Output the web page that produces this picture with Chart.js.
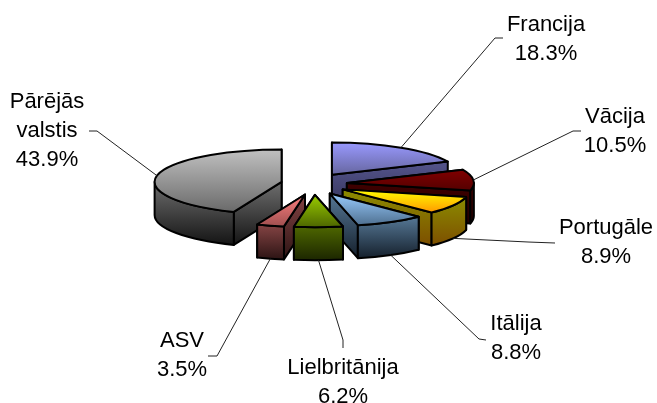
<!DOCTYPE html>
<html>
<head>
<meta charset="utf-8">
<title>Pie</title>
<script src="https://cdn.jsdelivr.net/npm/chart.js@4"></script>
<style>
	html, body { margin: 0; padding: 0; background: #fff; }
	#wrap { width: 657px; height: 403px; }
</style>
</head>
<body>
<div id="wrap"><canvas id="chart"></canvas></div>
<script>
const categories = ['Francija', 'Vācija', 'Portugāle', 'Itālija', 'Lielbritānija', 'ASV', 'Pārējās valstis'];
const shares = [18.3, 10.5, 8.9, 8.8, 6.2, 3.5, 43.9];

// colours of each slice: top face (light, dark) and side faces (light, dark)
const topLight = ['#9999ff', '#800000', '#ffff00', '#99ccff', '#99cc00', '#ff8080', '#c0c0c0'];
const topDark = ['#66669f', '#550000', '#ff9900', '#4f7090', '#4d6600', '#a05050', '#6a6a6a'];
const sideLight = ['#55558c', '#400000', '#8c8c00', '#567896', '#4d6600', '#854444', '#6e6e6e'];
const sideDark = ['#33335a', '#200000', '#7d4f00', '#15202c', '#1c2600', '#2c1414', '#141414'];

// label placement: centre x, first baseline, and where the leader line leaves the label
const labelX = [546, 615, 606, 516, 343, 182, 47];
const labelY = [31, 123, 234, 330, 374, 347, 108];
const leaderEnds = [
	[[503, 38], [495, 38]],
	[[581, 131], [573, 131]],
	[[555, 243], [528, 242]],
	[[486, 340], [479, 339]],
	[[343, 348], [343, 340]],
	[[208, 356], [217, 356]],
	[[89, 131], [97, 131]]
];

const SQUASH = 0.255;
const DEPTH = 33;
const EXPLODE = 33;
const EXPLODE_SQUASH = 0.33;
const LINE_HEIGHT = 29;

function vGradient(ctx, y0, y1, from, to) {
	const g = ctx.createLinearGradient(0, y0, 0, y1);
	g.addColorStop(0, from);
	g.addColorStop(1, to);
	return g;
}

// screen geometry of one exploded slice, worked out from the library's arc element
function sliceGeometry(el) {
	const { x, y, startAngle, endAngle, outerRadius } = el.getProps(['x', 'y', 'startAngle', 'endAngle', 'outerRadius']);
	const mid = (startAngle + endAngle) / 2;
	return {
		cx: x,
		cy: y,
		r: outerRadius,
		ry: outerRadius * SQUASH,
		start: startAngle,
		end: endAngle,
		mid: mid,
		ax: x + Math.cos(mid) * EXPLODE,
		ay: y + Math.sin(mid) * EXPLODE * EXPLODE_SQUASH
	};
}

function rimPoint(s, a) {
	return [s.ax + Math.cos(a) * s.r, s.ay + Math.sin(a) * s.ry];
}

function drawRadialFace(ctx, s, a, from, to) {
	const p = rimPoint(s, a);
	ctx.beginPath();
	ctx.moveTo(s.ax, s.ay);
	ctx.lineTo(p[0], p[1]);
	ctx.lineTo(p[0], p[1] + DEPTH);
	ctx.lineTo(s.ax, s.ay + DEPTH);
	ctx.closePath();
	ctx.fillStyle = vGradient(ctx, Math.min(s.ay, p[1]), Math.max(s.ay, p[1]) + DEPTH, from, to);
	ctx.fill();
	ctx.stroke();
}

function drawWall(ctx, s, from, to) {
	const lo = Math.max(s.start, 0);
	const hi = Math.min(s.end, Math.PI);
	if (hi <= lo) return;
	const ys = [rimPoint(s, lo)[1], rimPoint(s, hi)[1]];
	if (lo < Math.PI / 2 && hi > Math.PI / 2) ys.push(s.ay + s.ry);
	ctx.beginPath();
	ctx.ellipse(s.ax, s.ay, s.r, s.ry, 0, lo, hi);
	ctx.ellipse(s.ax, s.ay + DEPTH, s.r, s.ry, 0, hi, lo, true);
	ctx.closePath();
	ctx.fillStyle = vGradient(ctx, Math.min(...ys), Math.max(...ys) + DEPTH, from, to);
	ctx.fill();
	ctx.stroke();
}

function drawTop(ctx, el, s, i) {
	const pts = [rimPoint(s, s.start), rimPoint(s, s.end)];
	let yMin = Math.min(s.ay, pts[0][1], pts[1][1]);
	let yMax = Math.max(s.ay, pts[0][1], pts[1][1]);
	if (s.start < -Math.PI / 2 + 1e-6 || s.end > 3 * Math.PI / 2 - 1e-6) yMin = s.ay - s.ry;
	if (s.start < Math.PI / 2 && s.end > Math.PI / 2) yMax = s.ay + s.ry;

	// gradient is given in the round space the arc is drawn in, before it is squashed and moved out
	const toArc = y => s.cy + (y - s.ay) / SQUASH;
	el.options = Object.assign({}, el.options, {
		backgroundColor: vGradient(ctx, toArc(yMin), toArc(yMax), topLight[i], topDark[i]),
		borderWidth: 0
	});
	ctx.save();
	ctx.translate(s.ax, s.ay);
	ctx.scale(1, SQUASH);
	ctx.translate(-s.cx, -s.cy);
	el.draw(ctx);
	ctx.restore();

	ctx.beginPath();
	ctx.moveTo(s.ax, s.ay);
	ctx.ellipse(s.ax, s.ay, s.r, s.ry, 0, s.start, s.end);
	ctx.closePath();
	ctx.stroke();
}

const pie3d = {
	id: 'pie3d',
	beforeDatasetDraw(chart, args) {
		const ctx = chart.ctx;
		const arcs = chart.getDatasetMeta(args.index).data;
		const order = arcs.map((el, i) => i).sort((a, b) =>
			Math.sin(sliceGeometry(arcs[a]).mid) - Math.sin(sliceGeometry(arcs[b]).mid));

		ctx.save();
		ctx.strokeStyle = '#000';
		ctx.lineWidth = 2;
		ctx.lineJoin = 'round';
		order.forEach(i => {
			const s = sliceGeometry(arcs[i]);
			[s.start, s.end]
				.sort((a, b) => Math.sin(a) - Math.sin(b))
				.forEach(a => drawRadialFace(ctx, s, a, sideLight[i], sideDark[i]));
			drawWall(ctx, s, sideLight[i], sideDark[i]);
			drawTop(ctx, arcs[i], s, i);
		});
		ctx.restore();
		return false;
	},
	afterDatasetsDraw(chart) {
		const ctx = chart.ctx;
		const arcs = chart.getDatasetMeta(0).data;
		ctx.save();
		ctx.strokeStyle = '#222';
		ctx.lineWidth = 1;
		arcs.forEach((el, i) => {
			const s = sliceGeometry(el);
			const rim = rimPoint(s, s.mid);
			const anchorY = Math.sin(s.mid) > 0 ? rim[1] + DEPTH : rim[1];
			ctx.beginPath();
			ctx.moveTo(leaderEnds[i][0][0], leaderEnds[i][0][1]);
			ctx.lineTo(leaderEnds[i][1][0], leaderEnds[i][1][1]);
			ctx.lineTo(rim[0], anchorY);
			ctx.stroke();
		});
		ctx.fillStyle = '#000';
		ctx.font = '22px "Liberation Sans", Arial, sans-serif';
		ctx.textAlign = 'center';
		ctx.textBaseline = 'alphabetic';
		categories.forEach((name, i) => {
			const lines = name.split(' ').concat(shares[i].toFixed(1) + '%');
			lines.forEach((line, n) => ctx.fillText(line, labelX[i], labelY[i] + n * LINE_HEIGHT));
		});
		ctx.restore();
	}
};

new Chart(document.getElementById('chart'), {
	type: 'pie',
	data: {
		labels: categories,
		datasets: [{
			data: shares,
			radius: 127,
			borderWidth: 0,
			backgroundColor: topLight
		}]
	},
	options: {
		responsive: true,
		maintainAspectRatio: false,
		animation: false,
		layout: { padding: { left: 0, right: 29, top: 0, bottom: 35 } },
		plugins: { legend: { display: false }, tooltip: { enabled: false } },
		events: []
	},
	plugins: [pie3d]
});
</script>
</body>
</html>
